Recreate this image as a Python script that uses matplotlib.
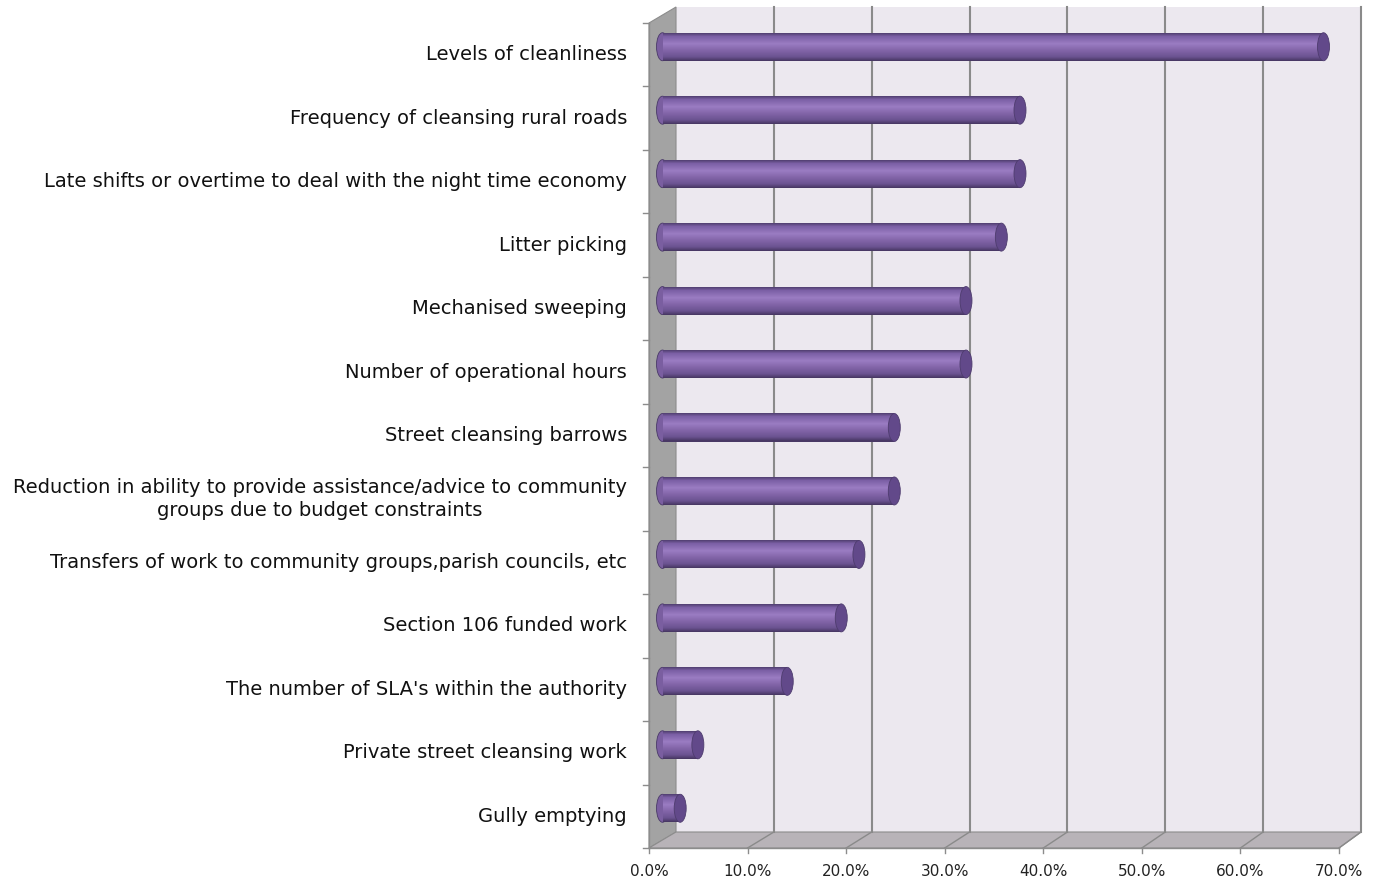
import matplotlib.pyplot as plt
from matplotlib.patches import Polygon, Ellipse, Rectangle
from matplotlib.colors import to_rgb
import numpy as np

plt.rcParams['font.family'] = ['DejaVu Sans']

categories = [
    'Levels of cleanliness',
    'Frequency of cleansing rural roads',
    'Late shifts or overtime to deal with the night time economy',
    'Litter picking',
    'Mechanised sweeping',
    'Number of operational hours',
    'Street cleansing barrows',
    'Reduction in ability to provide assistance/advice to community\ngroups due to budget constraints',
    'Transfers of work to community groups,parish councils, etc',
    'Section 106 funded work',
    "The number of SLA's within the authority",
    'Private street cleansing work',
    'Gully emptying',
]
values = [67.3, 36.4, 36.4, 34.5, 30.9, 30.9, 23.6, 23.6, 20.0, 18.2, 12.7, 3.6, 1.8]
xticks = [0, 10, 20, 30, 40, 50, 60, 70]

n = len(categories)
xmax = 70
W, H = 1380, 881
fig = plt.figure(figsize=(W / 100, H / 100), dpi=100)
# front plane of the 3D box in pixels: x 649..1339, y 23..848
ax = fig.add_axes([649 / W, (H - 848) / H, 690 / W, 825 / H])
ax.set_xlim(0, xmax)
ax.set_ylim(n - 0.5, -0.5)
ax.axis('off')

px_x = 690 / xmax          # pixels per percent
px_y = 825 / n             # pixels per category
dx = 27 / px_x             # depth offset (data units)
dy = -16 / px_y
sb = 685 / 690             # slight perspective shrink of the back wall


def back(t):
    return dx + t * sb


top, bot = -0.5, n - 0.5
grid_c = '#8a8a8a'

# back wall
ax.add_patch(Rectangle((back(0), top + dy), back(xmax) - back(0), n,
                       facecolor='#ece8ef', edgecolor='none', clip_on=False,
                       zorder=0))
# left wall
ax.add_patch(Polygon([(0, top), (back(0), top + dy), (back(0), bot + dy), (0, bot)],
                     closed=True, facecolor='#a3a3a3', edgecolor='#8c8c8c',
                     lw=0.8, clip_on=False, zorder=1))
# floor
ax.add_patch(Polygon([(0, bot), (xmax, bot), (back(xmax), bot + dy), (back(0), bot + dy)],
                     closed=True, facecolor='#b8b3b8', edgecolor='#8c8c8c',
                     lw=0.8, clip_on=False, zorder=1))
# grid lines on back wall and floor
for t in xticks[1:]:
    ax.plot([back(t), back(t)], [top + dy, bot + dy], color=grid_c, lw=1.5,
            clip_on=False, zorder=1)
    ax.plot([t, back(t)], [bot, bot + dy], color=grid_c, lw=1.0,
            clip_on=False, zorder=1)

# axis lines and ticks
ax.plot([0, 0], [top, bot], color='#8c8c8c', lw=1, clip_on=False, zorder=2)
ax.plot([0, xmax], [bot, bot], color='#8c8c8c', lw=1, clip_on=False, zorder=2)
for k in range(n + 1):
    ax.plot([-6 / px_x, 0], [k - 0.5, k - 0.5], color='#8c8c8c', lw=1,
            clip_on=False, zorder=2)
for t in xticks:
    ax.plot([t, t], [bot, bot + 5 / px_y], color='#8c8c8c', lw=1,
            clip_on=False, zorder=2)
    ax.text(t, bot + 23 / px_y, f'{t:.1f}%', ha='center', va='center',
            fontsize=11, color='#222222')

# cylinders at mid depth
bx, by = dx / 2, dy / 2
bs = (1 + sb) / 2
bh = 28 / px_y
capw = 12 / px_x
# vertical shading profile of the cylinder body (top -> bottom)
stops = [0.0, 0.12, 0.38, 0.6, 0.85, 1.0]
cols = ['#4e3d6e', '#7a5ea4', '#9a7cc2', '#8466aa', '#6a5290', '#45355f']
stops_rgb = np.array([to_rgb(c) for c in cols])
nb = 28
ypos = np.arange(n) + by
lengths = np.array(values) * bs
for i in range(nb):
    f = (i + 0.5) / nb
    c = [np.interp(f, stops, stops_rgb[:, j]) for j in range(3)]
    h = bh / nb
    ax.barh(ypos - bh / 2 + h * (i + 0.5), lengths, height=h * 1.1, left=bx,
            color=c, edgecolor='none', zorder=3)
for y, v in zip(ypos, lengths):
    ax.add_patch(Ellipse((bx, y), capw, bh, facecolor='#7a5ea0',
                         edgecolor='#4a3a68', lw=0.6, zorder=2.9))
    ax.add_patch(Ellipse((bx + v, y), capw, bh, facecolor='#62498a',
                         edgecolor='#4e3c6e', lw=0.6, zorder=4))

# category labels
for k, lab in enumerate(categories):
    ax.text(-22 / px_x, k, lab, ha='right', va='center', multialignment='center',
            fontsize=14, color='#111111', linespacing=1.3)

fig.savefig('out.png', dpi=100)
